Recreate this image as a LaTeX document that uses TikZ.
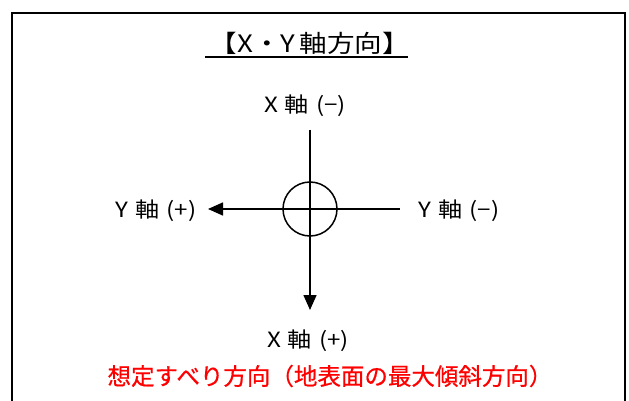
\documentclass[tikz,border=0pt]{standalone}
\usepackage{fontspec}
\setmainfont{Noto Sans CJK JP}
\newfontfamily\widejp[FakeStretch=1.15]{Noto Sans CJK JP}
\newfontfamily\heavyjp[FakeBold=0.6]{Noto Sans CJK JP}
\usetikzlibrary{arrows.meta}
\begin{document}
\begin{tikzpicture}[x=1pt,y=-1pt,
  lbl/.style={font=\widejp\fontsize{21}{21}\selectfont, inner sep=0pt},
  ttl/.style={font=\widejp\fontsize{24}{24}\selectfont, inner sep=0pt},
  note/.style={font=\heavyjp\fontsize{23.5}{23.5}\selectfont, inner sep=0pt, text=red},
  axis/.style={line width=1.5pt, -{Triangle[length=15pt,width=13pt]}},
  frame/.style={line width=2pt}]
\useasboundingbox (0,0) rectangle (629,401);
\coordinate (fbl) at (12,402);
\coordinate (ftl) at (12,13);
\coordinate (ftr) at (625,13);
\coordinate (fbr) at (625,402);
\draw[frame] (fbl) -- (ftl) -- (ftr) -- (fbr);
\node[ttl] (title) at (310,43) {【X・Y\,軸方向】};
\coordinate (ul) at (205,57);
\coordinate (ur) at (408,57);
\draw[line width=1.5pt] (ul) -- (ur);
\node[circle, draw, line width=1.5pt, minimum size=54pt, inner sep=0pt] (c) at (310,209) {};
\coordinate (top) at (310,130);
\coordinate (bot) at (310,310);
\coordinate (lft) at (208,209);
\coordinate (rgt) at (400,209);
\draw[axis] (top) -- (bot);
\draw[axis] (rgt) -- (lft);
\node[lbl] (xm) at (305,106) {X\,\,軸\,\,(−)};
\node[lbl] (yp) at (156,211) {Y\,\,軸\,\,(+)};
\node[lbl] (ym) at (459,211) {Y\,\,軸\,\,(−)};
\node[lbl] (xp) at (308,341) {X\,\,軸\,\,(+)};
\node[note] (dir) at (330,376) {想定すべり方向（地表面の最大傾斜方向）};
\end{tikzpicture}
\end{document}
